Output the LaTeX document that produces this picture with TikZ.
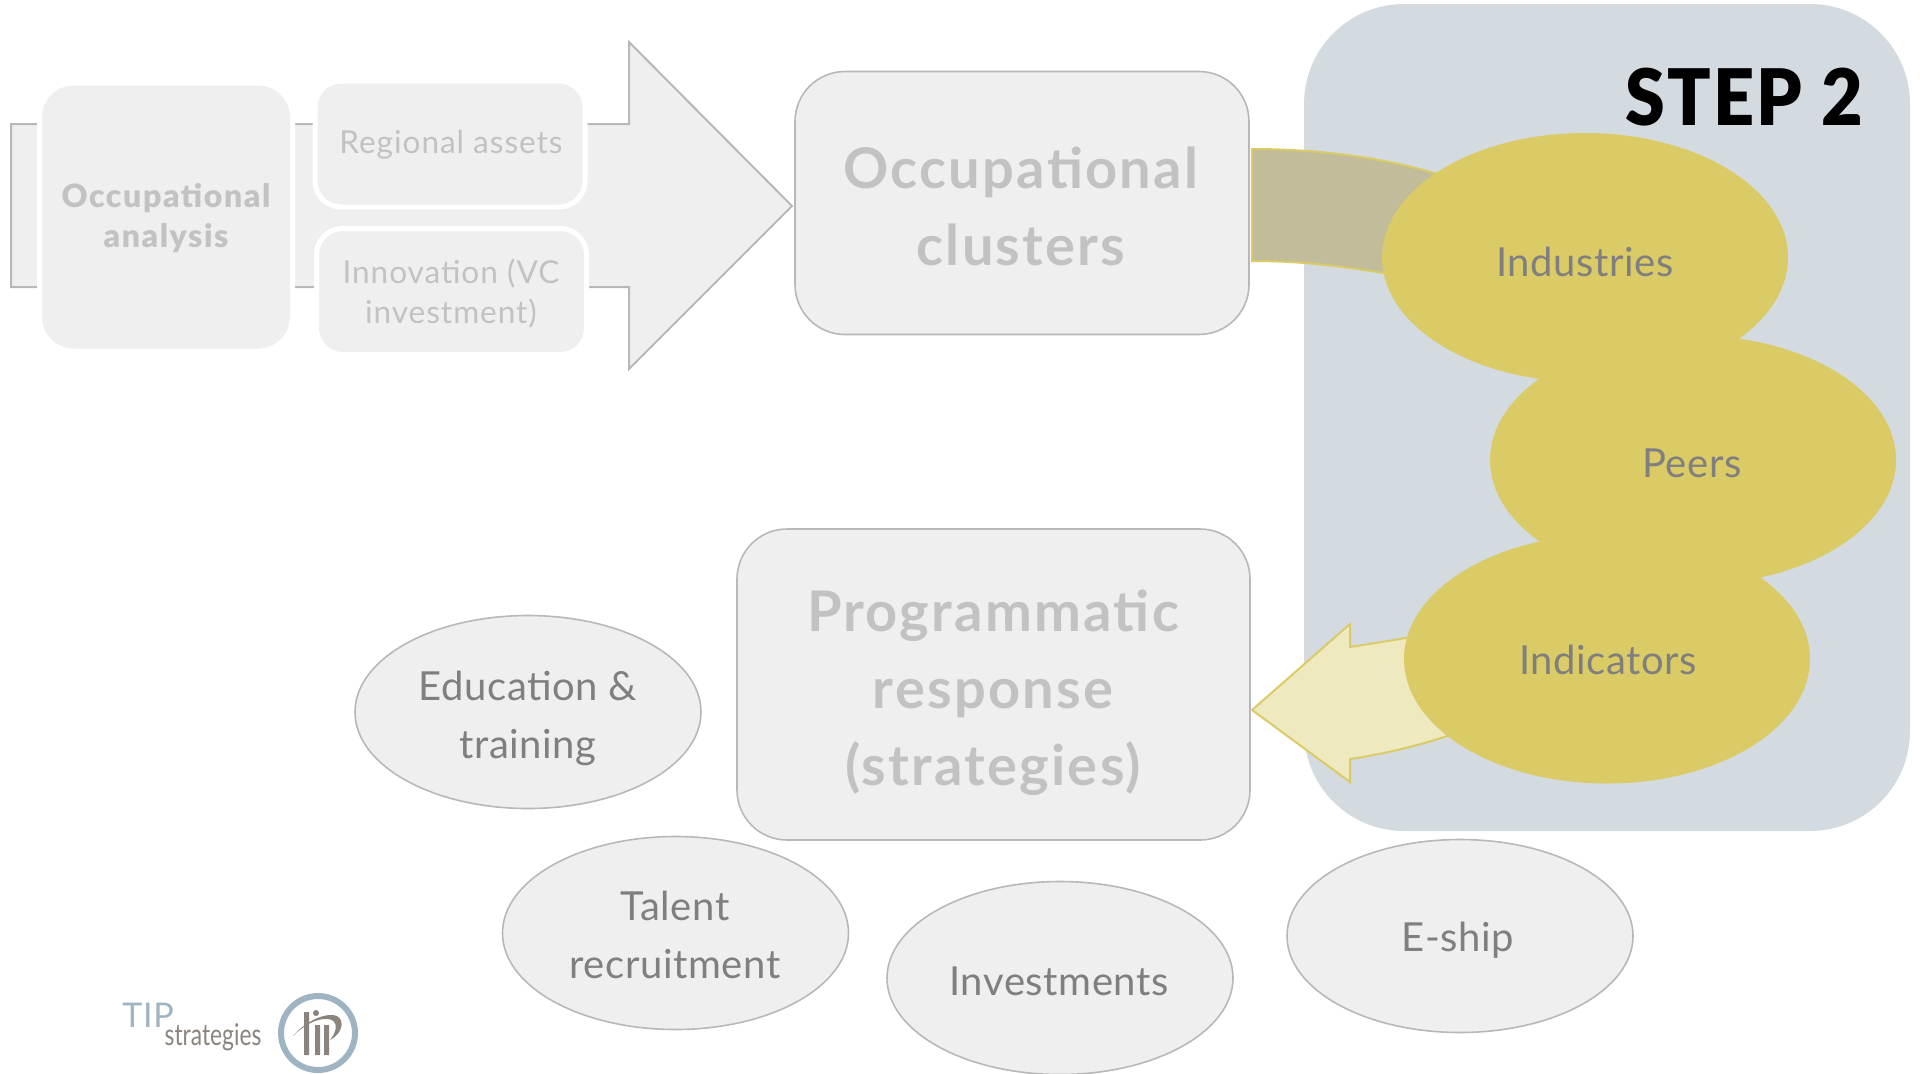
\documentclass[tikz,border=0pt]{standalone}
\usepackage{fontspec}
\setmainfont{Lato}
\newfontfamily\twn{Lato}[LetterSpace=1.5]
\newfontfamily\twsp{Lato}[LetterSpace=3]
\newfontfamily\twb{Lato}[LetterSpace=5,BoldFont={Lato Black}]
\newfontfamily\twc{Lato}[LetterSpace=4,BoldFont={Lato Bold}]
\newfontfamily\stepf{Lato}[BoldFont={Lato Black},LetterSpace=3,FakeStretch=0.92]
\newfontfamily\logof{Lato}[FakeStretch=0.76]
\newfontfamily\logot{Lato}[LetterSpace=2]
\usetikzlibrary{shapes.geometric}
\definecolor{panel}{HTML}{D3DBE1}
\definecolor{boxfill}{HTML}{EFEFEF}
\definecolor{boxline}{HTML}{B8B8B8}
\definecolor{gold}{HTML}{DBCB67}
\definecolor{band}{HTML}{C1BC99}
\definecolor{pale}{HTML}{EFE9C0}
\definecolor{faint}{HTML}{C2C2C2}
\definecolor{midtxt}{HTML}{7F7F7F}
\definecolor{logoblue}{HTML}{9FB4C2}
\definecolor{logogrey}{HTML}{8A847C}
\tikzset{
  goldell/.style={ellipse,fill=gold,minimum width=203pt,minimum height=124.5pt,inner sep=0pt},
  greyell/.style={ellipse,draw=boxline,line width=0.8pt,fill=boxfill,minimum width=173pt,minimum height=96.5pt,inner sep=0pt},
  bigbox/.style={rectangle,rounded corners=25pt,draw=boxline,line width=0.8pt,fill=boxfill,inner sep=0pt},
  smallbox/.style={rectangle,rounded corners=13pt,draw=white,line width=2.5pt,fill=boxfill,inner sep=0pt},
  lab/.style={align=center,text=midtxt,inner sep=0pt,font=\twn\fontsize{20}{29}\selectfont},
  biglab/.style={align=center,text=faint,inner sep=0pt,font=\twc\bfseries\fontsize{28}{38.5}\selectfont},
  smalllab/.style={align=center,text=faint,inner sep=0pt,font=\twsp\fontsize{15.8}{20}\selectfont},
}
\begin{document}
\begin{tikzpicture}[x=0.5pt,y=-0.5pt]
\useasboundingbox (0,0) rectangle (1920,1073);
\clip (0,0) rectangle (1920,1073);
% panel
\node[rectangle,rounded corners=50pt,fill=panel,minimum width=303pt,minimum height=413.5pt,inner sep=0pt] (panelbox) at (1607,417.5) {};
% big grey arrow
\draw[boxline,line width=1pt,fill=boxfill,line join=miter] (11,124) -- (629,124) -- (629,42) -- (792,206) -- (629,369) -- (629,287) -- (11,287) -- cycle;
% left boxes
\node[smallbox,rounded corners=17pt,minimum width=126.5pt,minimum height=134pt] (occbox) at (166,217) {};
\node[smallbox,minimum width=135pt,minimum height=63pt] (regbox) at (450,144) {};
\node[smallbox,minimum width=135pt,minimum height=63pt] (innbox) at (451.5,291.5) {};
\node[align=center,text=faint,inner sep=0pt,font=\twb\bfseries\fontsize{16}{20}\selectfont] (occlab) at (166,218) {Occupational\\analysis};
\node[smalllab] (reglab) at (451,145) {Regional assets};
\node[smalllab] (innlab) at (451,294) {Innovation (VC\\investment)};
% curved band
\draw[gold,line width=1pt,fill=band] (1252,149) .. controls (1320,149) and (1390,158) .. (1450,178) -- (1450,285) -- (1383,273) .. controls (1340,266) and (1300,261) .. (1252,261) -- cycle;
% yellow arrow
\draw[gold,line width=1pt,fill=pale,line join=miter] (1252,710) -- (1350,624) -- (1350,647) .. controls (1375,643) and (1395,640) .. (1430,634) -- (1470,728) .. controls (1430,743) and (1390,753) .. (1350,759) -- (1350,782) -- cycle;
% big boxes
\node[bigbox,minimum width=227pt,minimum height=131.5pt] (clusters) at (1022,203) {};
\node[biglab] (clusterslab) at (1021,206) {Occupational\\clusters};
\node[bigbox,minimum width=256.5pt,minimum height=155.5pt] (prog) at (993.5,684.5) {};
\node[biglab] (proglab) at (993,693) {Programmatic\\response\\(strategies)};
% gold ellipses
\node[goldell] (industries) at (1585,257.5) {};
\node[goldell] (peers) at (1693,460) {};
\node[goldell] (indicators) at (1607,659) {};
\node[lab] (indlab) at (1585,262) {Industries};
\node[lab] (peerlab) at (1692,463) {Peers};
\node[lab] (indclab) at (1608,660) {Indicators};
% grey ellipses
\node[greyell] (edu) at (528,712) {};
\node[lab] (edulab) at (528,718) {Education \&\\training};
\node[greyell] (talent) at (675.5,933) {};
\node[lab] (tallab) at (675,935) {Talent\\recruitment};
\node[greyell] (invest) at (1060,978) {};
\node[lab] (invlab) at (1059,981) {Investments};
\node[greyell] (eship) at (1460,936) {};
\node[lab] (eshlab) at (1458,940) {E-ship};
% step label
\node[inner sep=0pt,text=black,font=\stepf\bfseries\fontsize{39}{39}\selectfont] (steplab) at (1744,97) {STEP 2};
% logo
\node[inner sep=0pt,text=logoblue,font=\logot\fontsize{17}{17}\selectfont] (logotip) at (148,1015) {TIP};
\node[inner sep=0pt,text=logogrey,font=\logof\fontsize{15}{15}\selectfont] (logostr) at (213,1037) {strategies};
\node[circle,draw=logoblue,line width=3pt,minimum size=37pt,inner sep=0pt] (logoring) at (318,1033) {};
\fill[logogrey] (304,1012) rectangle (309,1055) (315,1025) rectangle (320,1055) (324,1025) rectangle (329,1055);
\fill[logogrey] (316,1013) circle (3);
\fill[logogrey] (293,1036) .. controls (305,1022) and (322,1014) .. (333,1015) .. controls (345,1016) and (345,1032) .. (330,1040) .. controls (338,1030) and (338,1020) .. (328,1019) .. controls (316,1018) and (303,1026) .. (293,1036) -- cycle;
\end{tikzpicture}
\end{document}
